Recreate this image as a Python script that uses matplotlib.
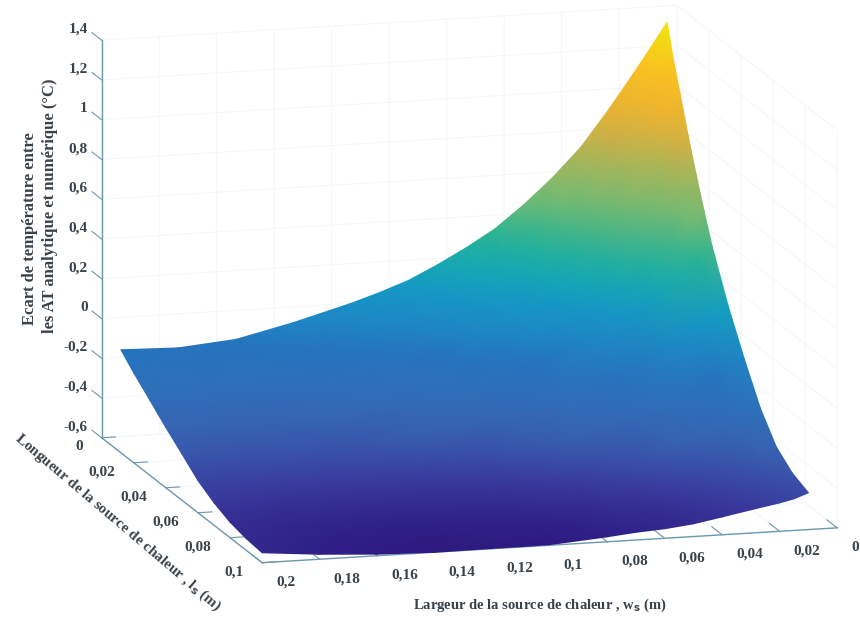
import numpy as np
import matplotlib
matplotlib.use("Agg")
import matplotlib.pyplot as plt
from matplotlib.colors import LinearSegmentedColormap
from mpl_toolkits.mplot3d import proj3d

# largeur et longueur de la source (m)
w_vals = [0.01, 0.015, 0.02, 0.03, 0.04, 0.05, 0.06, 0.07, 0.08, 0.09, 0.10, 0.11, 0.12, 0.14, 0.16, 0.18, 0.20]
l_vals = [0.012, 0.016, 0.02, 0.025, 0.03, 0.035, 0.04, 0.05, 0.06, 0.07, 0.08, 0.09, 0.10]

# ecart de temperature (lignes = l_vals, colonnes = w_vals)
ecart = [
    [1.399, 1.292, 1.186, 0.984, 0.797, 0.650, 0.523, 0.411, 0.325, 0.248, 0.179, 0.127, 0.081, 0.002, -0.065, -0.090, -0.082],
    [1.232, 1.134, 1.037, 0.852, 0.681, 0.547, 0.431, 0.328, 0.249, 0.182, 0.115, 0.071, 0.028, -0.044, -0.100, -0.115, -0.115],
    [1.092, 1.001, 0.912, 0.740, 0.583, 0.457, 0.350, 0.255, 0.183, 0.121, 0.059, 0.018, -0.023, -0.088, -0.137, -0.150, -0.148],
    [0.913, 0.829, 0.751, 0.598, 0.457, 0.344, 0.249, 0.165, 0.099, 0.044, -0.011, -0.047, -0.082, -0.139, -0.181, -0.190, -0.185],
    [0.748, 0.673, 0.601, 0.466, 0.340, 0.238, 0.154, 0.081, 0.021, -0.029, -0.079, -0.110, -0.140, -0.190, -0.225, -0.230, -0.222],
    [0.594, 0.526, 0.461, 0.343, 0.230, 0.139, 0.064, -0.001, -0.054, -0.099, -0.143, -0.170, -0.196, -0.239, -0.269, -0.270, -0.260],
    [0.448, 0.387, 0.330, 0.226, 0.125, 0.044, -0.022, -0.079, -0.125, -0.165, -0.205, -0.228, -0.250, -0.287, -0.312, -0.310, -0.297],
    [0.211, 0.159, 0.113, 0.030, -0.050, -0.116, -0.168, -0.212, -0.250, -0.282, -0.314, -0.330, -0.346, -0.374, -0.389, -0.382, -0.367],
    [0.008, -0.037, -0.074, -0.140, -0.204, -0.258, -0.299, -0.333, -0.363, -0.389, -0.414, -0.426, -0.437, -0.457, -0.464, -0.456, -0.438],
    [-0.177, -0.214, -0.242, -0.291, -0.337, -0.379, -0.410, -0.433, -0.456, -0.476, -0.495, -0.502, -0.508, -0.519, -0.520, -0.508, -0.487],
    [-0.310, -0.340, -0.362, -0.398, -0.434, -0.467, -0.489, -0.504, -0.522, -0.537, -0.551, -0.555, -0.558, -0.564, -0.560, -0.546, -0.522],
    [-0.379, -0.406, -0.424, -0.454, -0.484, -0.512, -0.530, -0.542, -0.557, -0.569, -0.581, -0.583, -0.584, -0.588, -0.581, -0.566, -0.541],
    [-0.415, -0.441, -0.457, -0.483, -0.510, -0.536, -0.552, -0.561, -0.575, -0.586, -0.597, -0.598, -0.598, -0.600, -0.592, -0.575, -0.550],
]

w_ticks = [0, 0.02, 0.04, 0.06, 0.08, 0.1, 0.12, 0.14, 0.16, 0.18, 0.2]
l_ticks = [0, 0.02, 0.04, 0.06, 0.08, 0.1]
z_ticks = [-0.6, -0.4, -0.2, 0, 0.2, 0.4, 0.6, 0.8, 1, 1.2, 1.4]

couleurs = [(0.0, "#2d1a80"), (0.06, "#3a3a9e"), (0.13, "#3860b0"), (0.20, "#2f6fba"),
            (0.26, "#2673be"), (0.30, "#1f85c4"), (0.375, "#1598c6"), (0.43, "#15aab2"),
            (0.50, "#2bb392"), (0.56, "#69ba78"), (0.66, "#9db85f"), (0.725, "#cbae48"),
            (0.80, "#f0b42f"), (0.90, "#fcc01f"), (1.0, "#efe80e")]
cmap = LinearSegmentedColormap.from_list("parula_lue", couleurs)

axe_col = "#6d98b0"
grille_col = "#f1f7fa"
texte_col = "#39424a"
police = "Liberation Serif"

W = 860
H = 621
fig = plt.figure(figsize=(W/100, H/100), dpi=100)
ax = fig.add_axes([2.1/W, -130.3/H, 910/W, 910/H], projection="3d", proj_type="ortho")
ax.view_init(elev=12.55, azim=74.4)
ax.set_box_aspect((598, 598, 408))
ax.set_xlim(0, 0.2)
ax.set_ylim(0, 0.1)
ax.set_zlim(-0.6, 1.4)

def lab(v):
    return f"{v:g}".replace(".", ",")

ax.set_xticks(w_ticks)
ax.set_yticks(l_ticks)
ax.set_zticks(z_ticks)

# sens et longueur des graduations comme sur la figure d'origine
ax.xaxis._get_tickdir = lambda pos: 1
ax.yaxis._get_tickdir = lambda pos: 0
ax.zaxis._get_tickdir = lambda pos: 1
for axis, fac in ((ax.xaxis, 0.8), (ax.yaxis, 0.3), (ax.zaxis, 0.75)):
    axis.set_pane_color((1, 1, 1, 0))
    axis.pane.set_edgecolor(grille_col)
    axis.line.set_color(axe_col)
    axis.line.set_linewidth(1.0)
    axis._axinfo["grid"]["color"] = grille_col
    axis._axinfo["grid"]["linewidth"] = 0.7
    axis._axinfo["tick"]["inward_factor"] = 0.0
    axis._axinfo["tick"]["outward_factor"] = fac
    for t in axis.get_major_ticks():
        t.label1.set_visible(False)
        t.label2.set_visible(False)
    axis.offsetText.set_visible(False)
ax.tick_params(color=axe_col, width=0.9)

fig.canvas.draw()

def projeter(x, y, z):
    # coordonnees 3D -> pixels de la figure
    xp, yp, _ = proj3d.proj_transform(np.ravel(x), np.ravel(y), np.ravel(z), ax.get_proj())
    pix = ax.transData.transform(np.column_stack([xp, yp]))
    return pix[:, 0], pix[:, 1]

# axe en pixels par dessus la 3D : surface a ombrage continu et textes
ov = fig.add_axes([0, 0, 1, 1])
ov.set_xlim(0, W)
ov.set_ylim(0, H)
ov.axis("off")
ov.patch.set_alpha(0)

L, Wg = np.meshgrid(l_vals, w_vals, indexing="ij")
Z = np.array(ecart)
px, py = projeter(Wg, L, Z)
ov.pcolormesh(px.reshape(Z.shape), py.reshape(Z.shape), Z, shading="gouraud",
              cmap=cmap, vmin=-0.6, vmax=1.4)

tick_txt = dict(family=police, weight="bold", fontsize=11, color=texte_col, va="center")
for v in w_ticks:
    tx, ty = projeter(v, 0.1088, -0.643)
    ov.text(tx[0], ty[0], lab(v), ha="left", **tick_txt)
for v in l_ticks:
    tx, ty = projeter(0.2066, v, -0.64)
    ov.text(tx[0], ty[0], lab(v), ha="right", **tick_txt)
for v in z_ticks:
    tx, ty = projeter(0.2, -0.0087, v)
    ov.text(tx[0], ty[0], lab(v), ha="right", **tick_txt)

txt = dict(family=police, weight="bold", color=texte_col)
fig.text(30/W, 1-325/H, "Ecart de température entre", rotation=90, fontsize=12,
         ha="center", va="bottom", **txt)
fig.text(50/W, 1-333/H, "les AT analytique et numérique (°C)", rotation=90, fontsize=12,
         ha="center", va="bottom", **txt)
fig.text(118/W, 1-523/H, r"Longueur de la source de chaleur , l$_{\mathbf{s}}$ (m)", rotation=-40.4,
         fontsize=10.9, ha="center", va="center", rotation_mode="anchor", **txt)
fig.text(540/W, 1-605/H, r"Largeur de la source de chaleur , w$_{\mathbf{s}}$ (m)", fontsize=10.5,
         ha="center", va="center", **txt)

fig.savefig("out.png", dpi=100)
